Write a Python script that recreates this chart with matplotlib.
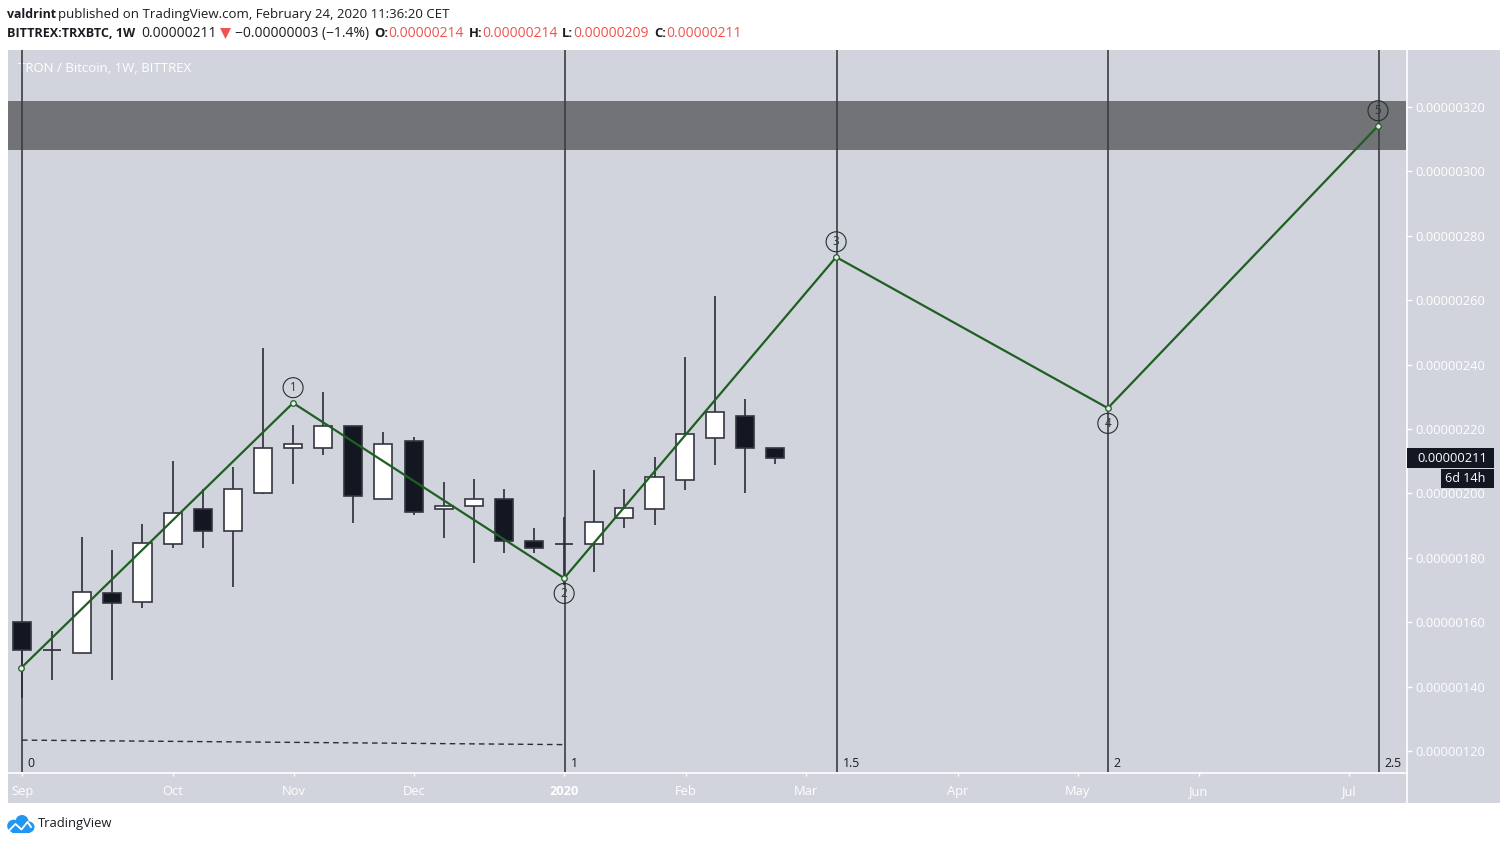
import matplotlib
matplotlib.use("Agg")
import matplotlib.pyplot as plt
from matplotlib.patches import Rectangle, Polygon, Circle

plt.rcParams['font.family'] = ['Open Sans', 'DejaVu Sans']

# weekly candles, prices in units of 1e-8 BTC
opens  = [160.2,151.4,150.3,169.2,166.4,184.2,195.2,188.2,200.2,214.2,214.2,221.0,198.2,216.4,195.1,196.1,198.3,185.2,184.2,184.2,192.3,195.1,204.3,217.2,224.1,214.0]
highs  = [160.2,157.3,186.5,182.4,190.5,210.2,201.4,208.2,245.2,221.1,231.5,221.0,219.2,217.4,203.4,204.4,201.3,189.3,192.6,207.3,201.4,211.2,242.3,261.3,229.3,214.0]
lows   = [136.5,142.0,150.3,142.0,164.4,183.0,183.0,171.0,199.7,202.8,212.0,190.9,198.2,193.2,186.1,178.3,181.4,181.4,171.6,175.7,189.2,190.2,201.1,208.8,200.0,209.0]
closes = [151.4,151.4,169.5,165.9,184.5,194.0,188.2,201.3,214.2,215.2,221.0,199.2,215.2,194.3,196.2,198.2,185.1,183.0,184.2,191.0,195.4,205.0,218.4,225.2,214.1,211.0]

# Elliott wave projection
wave_x = [-0.03, 9.0, 18.0, 27.03, 36.05, 45.02]
wave_y = [145.8, 228.1, 173.7, 273.4, 226.5, 314.1]
wave_labels = ["", "1", "2", "3", "4", "5"]
wave_side = [0, 1, -1, 1, -1, 1]

# Fibonacci time zones
fib_x = [0.0, 18.03, 27.06, 36.07, 45.05]
fib_labels = ["0", "1", "1.5", "2", "2.5"]

zone_low, zone_high = 306.6, 322.0
dash_x = [0.0, 18.03]
dash_y = [123.4, 122.0]

y_ticks = [120, 140, 160, 180, 200, 220, 240, 260, 280, 300, 320]
x_ticks = [0, 5, 9.03, 13.03, 18, 22.03, 26.03, 31.07, 35.05, 39.07, 44.07]
x_labels = ["Sep", "Oct", "Nov", "Dec", "2020", "Feb", "Mar", "Apr", "May", "Jun", "Jul"]

W, H = 1508, 844
BG = "#d1d4dc"
DARK = "#131722"
RED = "#ef5350"
TXT = "#1a1c22"
GREEN = "#1f5f22"

fig = plt.figure(figsize=(W / 100, H / 100), dpi=100, facecolor="white")


def fx(x):
    return x / W


def fy(y):
    return 1 - y / H


# scale strips behind the pane
fig.add_artist(Rectangle((fx(8), fy(802.5)), fx(1500 - 8), (802.5 - 50) / H,
                         transform=fig.transFigure, fc=BG, ec="none", zorder=0))

ax = fig.add_axes([fx(8), fy(772), fx(1406 - 8), (772 - 50) / H], facecolor=BG, zorder=1)
ax.set_xlim(-0.465, 45.95)
ax.set_ylim(113.5, 337.7)
for s in ax.spines.values():
    s.set_visible(False)

ax.axhspan(zone_low, zone_high, fc="#727377", ec="none", zorder=1)

ax.text(fx(17.5), fy(68.5), "TRON / Bitcoin, 1W, BITTREX", transform=fig.transFigure,
        color="white", fontsize=9.55, ha="left", va="center", zorder=1.5)

for x in fib_x:
    ax.axvline(x, color="#3a3c44", lw=1.2, zorder=2)
for x, lab in zip(fib_x, fib_labels):
    ax.text(x + 0.18, 116.2, lab, fontsize=8.8, color=TXT, ha="left", va="center", zorder=6)
ax.plot(dash_x, dash_y, color="#2a2c33", lw=1, ls=(0, (4, 3)), zorder=2)

# candles
for i, (o, h, l, c) in enumerate(zip(opens, highs, lows, closes)):
    ax.vlines(i, l, h, color="#2a2d37", lw=1.2, zorder=3)
    face = "white" if c >= o else DARK
    if o == c:
        ax.hlines(o, i - 0.3, i + 0.3, color="#2a2d37", lw=1.2, zorder=3)
    else:
        ax.add_patch(Rectangle((i - 0.3, min(o, c)), 0.6, abs(c - o), fc=face,
                               ec="#33363f", lw=1.2, zorder=4))

# wave
ax.plot(wave_x, wave_y, color=GREEN, lw=1.6, zorder=5,
        marker="o", ms=4, mfc="#e8ece8", mec=GREEN, mew=0.9)
for x, y, lab, side in zip(wave_x, wave_y, wave_labels, wave_side):
    if lab:
        ax.annotate(lab, xy=(x, y), xytext=(0, side * 11.0), textcoords="offset points",
                    ha="center", va="center", fontsize=8.4, color="#2c3a32", zorder=6,
                    bbox=dict(boxstyle="circle,pad=0.3", fc="none", ec="#22302a", lw=0.8))

# axes ticks
ax.yaxis.tick_right()
ax.set_yticks(y_ticks)
ax.set_yticklabels([f"{v * 1e-8:.8f}" for v in y_ticks], color="white", fontsize=9.3)
ax.tick_params(axis="y", length=4, color="white", width=1, pad=3)
ax.set_xticks(x_ticks)
ax.set_xticklabels(x_labels, color="white", fontsize=9.3)
ax.tick_params(axis="x", length=3, color="white", width=1, pad=13.5)
for lab in ax.get_xticklabels():
    lab.set_verticalalignment("baseline")
    if lab.get_text() == "2020":
        lab.set_fontweight("bold")

# white separators
fig.add_artist(plt.Line2D([fx(8), fx(1407)], [fy(773)] * 2, color="white", lw=1.2, zorder=3))
fig.add_artist(plt.Line2D([fx(1407)] * 2, [fy(50), fy(802.5)], color="white", lw=1.2, zorder=3))

# last price flags
fig.add_artist(Rectangle((fx(1407), fy(467.5)), fx(87), 19.5 / H, transform=fig.transFigure,
                         fc=DARK, ec="none", zorder=4))
fig.add_artist(Rectangle((fx(1441), fy(488)), fx(53), 19 / H, transform=fig.transFigure,
                         fc=DARK, ec="none", zorder=4))
fig.text(fx(1417), fy(458), "0.00000211", color="white", fontsize=9.3, ha="left", va="center", zorder=5)
fig.text(fx(1445), fy(478.5), "6d 14h", color="white", fontsize=9, ha="left", va="center", zorder=5)

# header
fig.text(fx(7), fy(14.5), "valdrint", fontsize=8.9, fontweight="bold", color=TXT, va="center")
fig.text(fx(58), fy(14.5), "published on TradingView.com, February 24, 2020 11:36:20 CET",
         fontsize=9.5, color=TXT, va="center")
line2 = [(7, "BITTREX:TRXBTC, 1W", TXT, "bold", 9.05), (141, "0.00000211", TXT, "normal", 10),
         (235, "\u22120.00000003 (\u22121.4%)", TXT, "normal", 10),
         (374, "O:", TXT, "bold", 9.4), (388, "0.00000214", RED, "normal", 10),
         (469, "H:", TXT, "bold", 9.4), (482, "0.00000214", RED, "normal", 10),
         (562, "L:", TXT, "bold", 9.4), (573, "0.00000209", RED, "normal", 10),
         (654, "C:", TXT, "bold", 9.4), (666, "0.00000211", RED, "normal", 10)]
for x, s, col, wt, fs in line2:
    fig.text(fx(x), fy(33.5), s, fontsize=fs, color=col, fontweight=wt, va="center")
fig.add_artist(Polygon([(fx(220), fy(28)), (fx(231), fy(28)), (fx(225.5), fy(39))],
                       transform=fig.transFigure, fc=RED, ec="none"))

# footer logo: rounded cloud with a white zigzag
BLUE = "#2196f3"
logo_ax = fig.add_axes([0, 0, 1, 1], facecolor="none", zorder=5)
logo_ax.set_xlim(0, W)
logo_ax.set_ylim(H, 0)
logo_ax.axis("off")
for cx, cy, r in [(13.5, 826.0, 6.3), (22.0, 821.5, 6.5), (29.0, 827.0, 5.5)]:
    logo_ax.add_patch(Circle((cx, cy), r, fc=BLUE, ec="none"))
logo_ax.add_patch(Rectangle((12, 825), 18, 7.5, fc=BLUE, ec="none"))
logo_ax.plot([9, 15.5, 21.5, 27.5, 31], [830.5, 824, 829.5, 822, 827], color="white", lw=1.3)
fig.text(fx(38), fy(823.5), "TradingView", fontsize=9.4, color=TXT, va="center", zorder=6)

fig.savefig("out.png", dpi=100)
